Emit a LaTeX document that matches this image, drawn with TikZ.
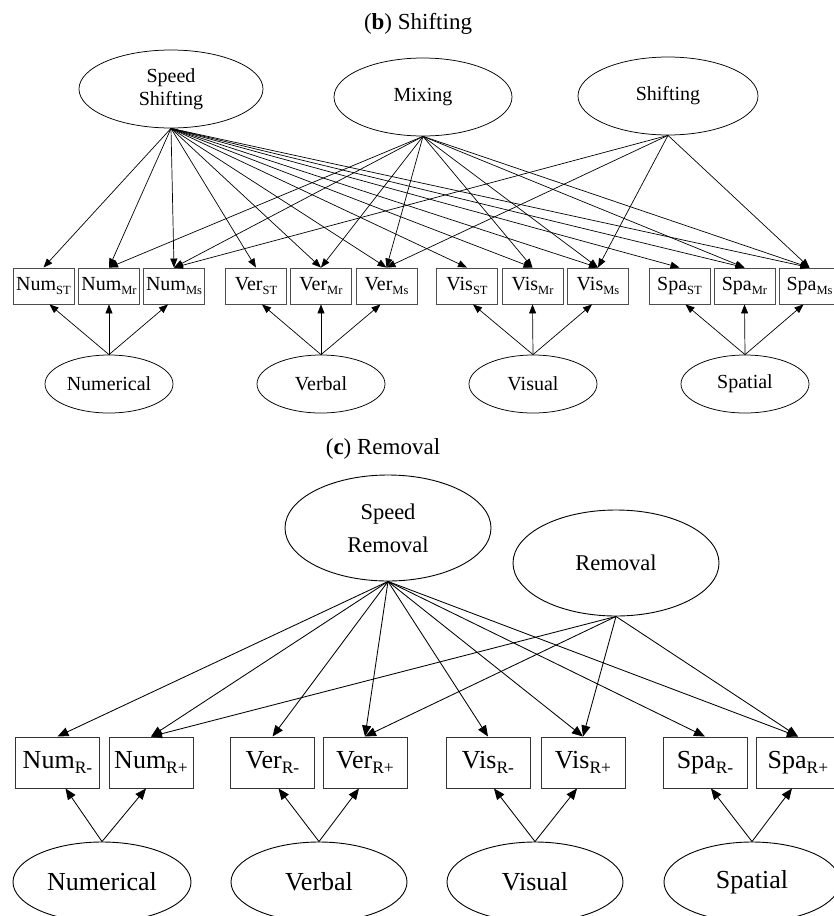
\documentclass[tikz,border=0pt]{standalone}
\usepackage{fontspec}
\setmainfont{Liberation Serif}
\usetikzlibrary{arrows.meta,shapes.geometric}
\newcommand\subA[1]{\raisebox{-4pt}{\fontsize{12.5}{13}\selectfont #1}}
\newcommand\subB[1]{\raisebox{-5.5pt}{\fontsize{17.5}{18}\selectfont #1}}
\begin{document}
\begin{tikzpicture}[x=1pt,y=-1pt,
  titletext/.style={inner sep=0pt, font=\fontsize{23}{25}\selectfont},
  ellA/.style={ellipse, draw, line width=0.75pt, inner sep=0pt, align=center, font=\fontsize{20}{23.5}\selectfont},
  ellB/.style={ellipse, draw, line width=0.9pt, inner sep=0pt, align=center, font=\fontsize{22.5}{33}\selectfont},
  ellC/.style={ellipse, draw, line width=0.9pt, inner sep=0pt, align=center, font=\fontsize{26}{28}\selectfont},
  boxA/.style={rectangle, draw=black!70, line width=0.9pt, inner sep=0pt, minimum width=61pt, minimum height=36pt, font=\fontsize{20}{22}\selectfont},
  boxB/.style={rectangle, draw=black!80, line width=1pt, inner sep=0pt, minimum width=84pt, minimum height=51pt, font=\fontsize{26}{28}\selectfont},
  arrA/.style={-{Triangle[length=9pt,width=7pt]}, line width=0.7pt},
  arrB/.style={-{Triangle[length=11pt,width=9pt]}, line width=0.85pt}]
\useasboundingbox (0,0) rectangle (834,916);
\clip (0,0) rectangle (834,916);
\fill[white] (0,0) rectangle (834,916);

% ---------- (b) Shifting ----------
\node[titletext] (tb) at (418,24) {(\textbf{b}) Shifting};
\node[ellA, minimum width=184pt, minimum height=78pt] (SS) at (171,89) {Speed\\Shifting};
\node[ellA, minimum width=178pt, minimum height=78pt] (MX) at (423,97) {Mixing};
\node[ellA, minimum width=180pt, minimum height=78pt] (SH) at (668,96) {Shifting};

\node[boxA] (numST) at (43.5,286) {Num\subA{ST}};
\node[boxA] (numMr) at (109,286) {Num\subA{Mr}};
\node[boxA] (numMs) at (174,286) {Num\subA{Ms}};
\node[boxA] (verST) at (256,286) {Ver\subA{ST}};
\node[boxA] (verMr) at (321,286) {Ver\subA{Mr}};
\node[boxA] (verMs) at (386.5,286) {Ver\subA{Ms}};
\node[boxA] (visST) at (467,286) {Vis\subA{ST}};
\node[boxA] (visMr) at (532.5,286) {Vis\subA{Mr}};
\node[boxA] (visMs) at (598,286) {Vis\subA{Ms}};
\node[boxA] (spaST) at (679.5,286) {Spa\subA{ST}};
\node[boxA] (spaMr) at (744.5,286) {Spa\subA{Mr}};
\node[boxA] (spaMs) at (809.5,286) {Spa\subA{Ms}};

\node[ellA, minimum width=128pt, minimum height=58pt] (Lnum) at (109,384) {Numerical};
\node[ellA, minimum width=128pt, minimum height=58pt] (Lver) at (321,384) {Verbal};
\node[ellA, minimum width=128pt, minimum height=58pt] (Lvis) at (533,384) {Visual};
\node[ellA, minimum width=128pt, minimum height=58pt] (Lspa) at (745,384) {Spatial};

\foreach \g in {num,ver,vis,spa}{
  \foreach \s in {ST,Mr,Ms}{\draw[arrA] (SS.south) -- (\g\s.north);}
  \foreach \s in {Mr,Ms}{\draw[arrA] (MX.south) -- (\g\s.north);}
  \draw[arrA] (SH.south) -- (\g Ms.north);
}
\draw[arrA] (Lnum.north) -- ([xshift=6]numST.south);
\draw[arrA] (Lnum.north) -- (numMr.south);
\draw[arrA] (Lnum.north) -- ([xshift=-6]numMs.south);
\draw[arrA] (Lver.north) -- ([xshift=6]verST.south);
\draw[arrA] (Lver.north) -- (verMr.south);
\draw[arrA] (Lver.north) -- ([xshift=-6]verMs.south);
\draw[arrA] (Lvis.north) -- ([xshift=6]visST.south);
\draw[arrA] (Lvis.north) -- (visMr.south);
\draw[arrA] (Lvis.north) -- ([xshift=-6]visMs.south);
\draw[arrA] (Lspa.north) -- ([xshift=6]spaST.south);
\draw[arrA] (Lspa.north) -- (spaMr.south);
\draw[arrA] (Lspa.north) -- ([xshift=-6]spaMs.south);

% ---------- (c) Removal ----------
\node[titletext] (tc) at (383,449) {(\textbf{c}) Removal};
\node[ellB, minimum width=206pt, minimum height=106pt] (SR) at (388,528) {Speed\\Removal};
\node[ellB, minimum width=206pt, minimum height=106pt] (RM) at (616,563) {Removal};

\node[boxB] (numRm) at (57.5,762.5) {Num\subB{R-}};
\node[boxB] (numRp) at (151,762.5) {Num\subB{R+}};
\node[boxB] (verRm) at (272.5,762.5) {Ver\subB{R-}};
\node[boxB] (verRp) at (365,762.5) {Ver\subB{R+}};
\node[boxB] (visRm) at (488,762.5) {Vis\subB{R-}};
\node[boxB] (visRp) at (583,762.5) {Vis\subB{R+}};
\node[boxB] (spaRm) at (705,762.5) {Spa\subB{R-}};
\node[boxB] (spaRp) at (798,762.5) {Spa\subB{R+}};

\node[ellC, minimum width=178pt, minimum height=80pt] (Bnum) at (102,882) {Numerical};
\node[ellC, minimum width=176pt, minimum height=80pt] (Bver) at (319,882) {Verbal};
\node[ellC, minimum width=176pt, minimum height=80pt] (Bvis) at (535,882) {Visual};
\node[ellC, minimum width=176pt, minimum height=80pt] (Bspa) at (752,882) {Spatial};

\foreach \g in {num,ver,vis,spa}{
  \draw[arrB] (SR.south) -- (\g Rm.north);
  \draw[arrB] (SR.south) -- (\g Rp.north);
  \draw[arrB] (RM.south) -- (\g Rp.north);
}
\draw[arrB] (Bnum.north) -- ([xshift=8]numRm.south);
\draw[arrB] (Bnum.north) -- ([xshift=-5]numRp.south);
\draw[arrB] (Bver.north) -- ([xshift=6]verRm.south);
\draw[arrB] (Bver.north) -- ([xshift=-6]verRp.south);
\draw[arrB] (Bvis.north) -- ([xshift=6]visRm.south);
\draw[arrB] (Bvis.north) -- ([xshift=-6]visRp.south);
\draw[arrB] (Bspa.north) -- ([xshift=6]spaRm.south);
\draw[arrB] (Bspa.north) -- ([xshift=-6]spaRp.south);
\end{tikzpicture}
\end{document}
